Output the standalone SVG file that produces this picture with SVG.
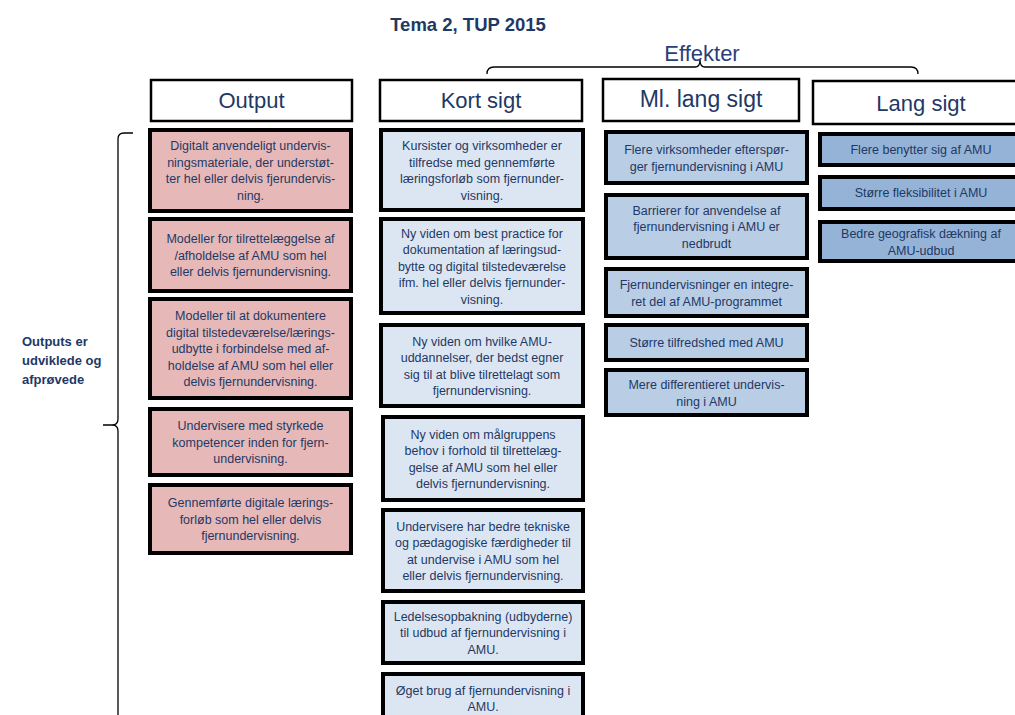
<svg xmlns="http://www.w3.org/2000/svg" width="1015" height="715" viewBox="0 0 1015 715">
<style>
  text { font-family: "Liberation Sans", Arial, sans-serif; fill: #1f3864; }
  .title { font-size: 18.5px; font-weight: bold; text-anchor: middle; }
  .eff { font-size: 22px; text-anchor: middle; fill: #2a3f7a; }
  .hdr rect { fill: #ffffff; stroke: #000; stroke-width: 2.5; }
  .hdr text { font-size: 22px; text-anchor: middle; fill: #1f3864; }
  .box rect { stroke: #000; stroke-width: 4; }
  .box text { font-size: 12.5px; text-anchor: middle; }
  .out rect { fill: #e6b9b8; }
  .kort rect { fill: #dce6f2; }
  .ml rect { fill: #b9cde5; }
  .lang rect { fill: #95b3d7; }
  .side { font-size: 13px; font-weight: bold; }
  .brk { fill: none; stroke: #000; stroke-width: 1.3; }
</style>
<rect x="0" y="0" width="1015" height="715" fill="#ffffff"/>
<text class="title" x="468" y="31">Tema 2, TUP 2015</text>
<text class="eff" x="702" y="61">Effekter</text>

<g id="connectors">
  <path class="brk" d="M487,74 Q487,67 494,67 L695,67 Q700,67 700,60 Q700,67 705,67 L911,67 Q918,67 918,74"/>
  <path class="brk" d="M133,133 L124,133 Q118,133 118,139 L118,419 Q118,425 112,425 L103,425 M112,425 Q118,425 118,431 L118,715"/>
</g>

<g id="side-label">
  <text class="side" x="22" y="346">Outputs er</text>
  <text class="side" x="22" y="365">udviklede og</text>
  <text class="side" x="22" y="384">afprøvede</text>
</g>

<g id="hdr-output" class="hdr"><rect x="151" y="80" width="201" height="41"/><text x="251.5" y="108">Output</text></g>
<g id="hdr-kort" class="hdr"><rect x="380" y="80" width="202" height="41"/><text x="481" y="108">Kort sigt</text></g>
<g id="hdr-ml" class="hdr"><rect x="603" y="79" width="196" height="42"/><text x="701" y="107" style="font-size:23px">Ml. lang sigt</text></g>
<g id="hdr-lang" class="hdr"><rect x="813" y="81" width="205" height="43"/><text x="921" y="111">Lang sigt</text></g>

<g id="o1" class="box out"><rect x="150" y="130" width="201" height="81"/>
  <text x="250.5" y="150">Digitalt anvendeligt undervis-</text>
  <text x="250.5" y="166.5">ningsmateriale, der understøt-</text>
  <text x="250.5" y="183">ter hel eller delvis fjerundervis-</text>
  <text x="250.5" y="199.5">ning.</text></g>
<g id="o2" class="box out"><rect x="150" y="219" width="201" height="72"/>
  <text x="250.5" y="243">Modeller for tilrettelæggelse af</text>
  <text x="250.5" y="259.5">/afholdelse af AMU som hel</text>
  <text x="250.5" y="276">eller delvis fjernundervisning.</text></g>
<g id="o3" class="box out"><rect x="150" y="299" width="201" height="99"/>
  <text x="250.5" y="320">Modeller til at dokumentere</text>
  <text x="250.5" y="336.5">digital tilstedeværelse/lærings-</text>
  <text x="250.5" y="353">udbytte i forbindelse med af-</text>
  <text x="250.5" y="369.5">holdelse af AMU som hel eller</text>
  <text x="250.5" y="386">delvis fjernundervisning.</text></g>
<g id="o4" class="box out"><rect x="150" y="409" width="201" height="66"/>
  <text x="250.5" y="430">Undervisere med styrkede</text>
  <text x="250.5" y="446.5">kompetencer inden for fjern-</text>
  <text x="250.5" y="463">undervisning.</text></g>
<g id="o5" class="box out"><rect x="150" y="485" width="201" height="68"/>
  <text x="250.5" y="507">Gennemførte digitale lærings-</text>
  <text x="250.5" y="523.5">forløb som hel eller delvis</text>
  <text x="250.5" y="540">fjernundervisning.</text></g>

<g id="k1" class="box kort"><rect x="381" y="130" width="202" height="80"/>
  <text x="482" y="150">Kursister og virksomheder er</text>
  <text x="482" y="166.5">tilfredse med gennemførte</text>
  <text x="482" y="183">læringsforløb som fjernunder-</text>
  <text x="482" y="199.5">visning.</text></g>
<g id="k2" class="box kort"><rect x="381" y="219" width="202" height="94"/>
  <text x="482" y="237.5">Ny viden om best practice for</text>
  <text x="482" y="254">dokumentation af læringsud-</text>
  <text x="482" y="270.5">bytte og digital tilstedeværelse</text>
  <text x="482" y="287">ifm. hel eller delvis fjernunder-</text>
  <text x="482" y="303.5">visning.</text></g>
<g id="k3" class="box kort"><rect x="381" y="325" width="202" height="81"/>
  <text x="482" y="345.5">Ny viden om hvilke AMU-</text>
  <text x="482" y="362">uddannelser, der bedst egner</text>
  <text x="482" y="378.5">sig til at blive tilrettelagt som</text>
  <text x="482" y="395">fjernundervisning.</text></g>
<g id="k4" class="box kort"><rect x="383" y="417" width="200" height="83"/>
  <text x="483" y="438.5">Ny viden om målgruppens</text>
  <text x="483" y="455">behov i forhold til tilrettelæg-</text>
  <text x="483" y="471.5">gelse af AMU som hel eller</text>
  <text x="483" y="488">delvis fjernundervisning.</text></g>
<g id="k5" class="box kort"><rect x="383" y="510" width="200" height="81"/>
  <text x="483" y="530.5">Undervisere har bedre tekniske</text>
  <text x="483" y="547">og pædagogiske færdigheder til</text>
  <text x="483" y="563.5">at undervise i AMU som hel</text>
  <text x="483" y="580">eller delvis fjernundervisning.</text></g>
<g id="k6" class="box kort"><rect x="383" y="602" width="200" height="61"/>
  <text x="483" y="620.5">Ledelsesopbakning (udbyderne)</text>
  <text x="483" y="637">til udbud af fjernundervisning i</text>
  <text x="483" y="653.5">AMU.</text></g>
<g id="k7" class="box kort"><rect x="383" y="674" width="200" height="50"/>
  <text x="483" y="694.5">Øget brug af fjernundervisning i</text>
  <text x="483" y="711">AMU.</text></g>

<g id="m1" class="box ml"><rect x="606" y="132" width="201" height="51"/>
  <text x="706.5" y="154">Flere virksomheder efterspør-</text>
  <text x="706.5" y="170.5">ger fjernundervisning i AMU</text></g>
<g id="m2" class="box ml"><rect x="606" y="195" width="201" height="63"/>
  <text x="706.5" y="214.5">Barrierer for anvendelse af</text>
  <text x="706.5" y="231">fjernundervisning i AMU er</text>
  <text x="706.5" y="247.5">nedbrudt</text></g>
<g id="m3" class="box ml"><rect x="606" y="269" width="201" height="47"/>
  <text x="706.5" y="289">Fjernundervisninger en integre-</text>
  <text x="706.5" y="305.5">ret del af AMU-programmet</text></g>
<g id="m4" class="box ml"><rect x="606" y="325" width="201" height="35"/>
  <text x="706.5" y="347">Større tilfredshed med AMU</text></g>
<g id="m5" class="box ml"><rect x="606" y="370" width="201" height="45"/>
  <text x="706.5" y="389">Mere differentieret undervis-</text>
  <text x="706.5" y="405.5">ning i AMU</text></g>

<g id="l1" class="box lang"><rect x="820" y="134" width="200" height="31"/>
  <text x="921" y="154">Flere benytter sig af AMU</text></g>
<g id="l2" class="box lang"><rect x="820" y="177" width="200" height="32"/>
  <text x="921" y="197">Større fleksibilitet i AMU</text></g>
<g id="l3" class="box lang"><rect x="820" y="222" width="200" height="39"/>
  <text x="921" y="238">Bedre geografisk dækning af</text>
  <text x="921" y="254.5">AMU-udbud</text></g>
</svg>
